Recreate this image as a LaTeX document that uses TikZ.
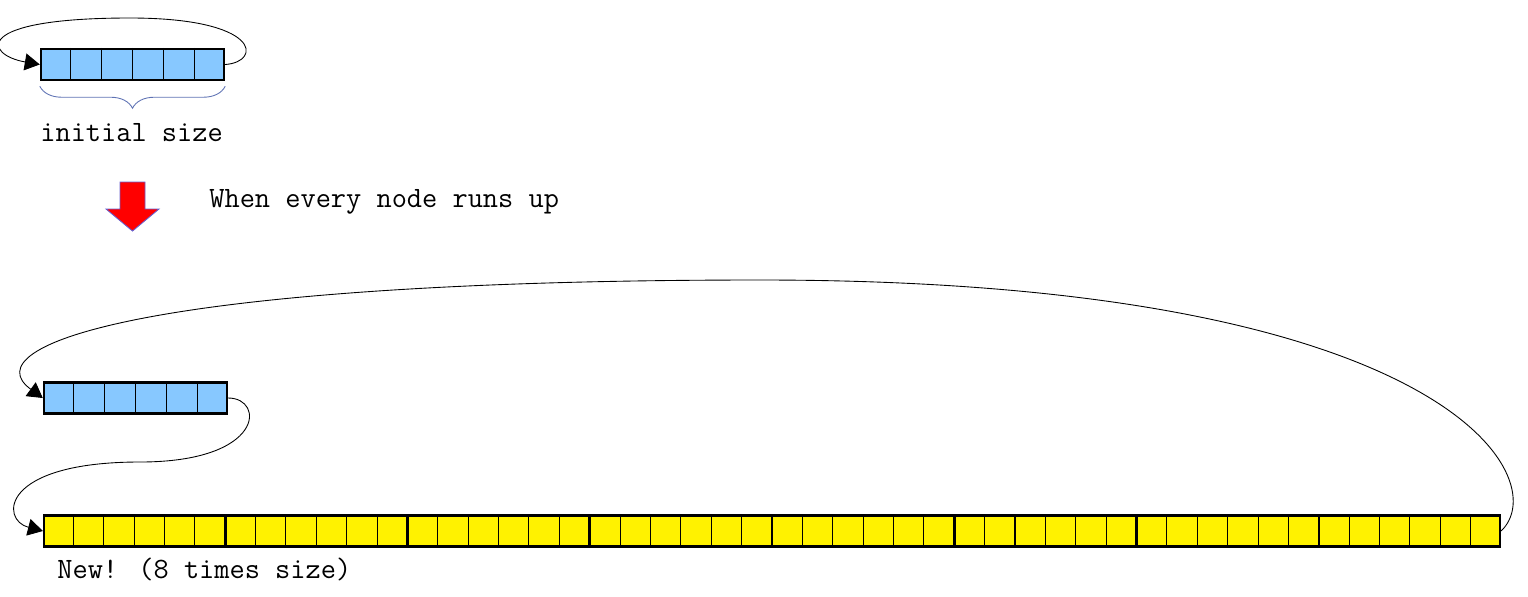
\documentclass[tikz,border=0pt]{standalone}
\usepackage{fontspec}
\usepackage{tikz}
\usepackage{xcolor}
\usetikzlibrary{positioning, arrows.meta, calc, decorations.pathreplacing}

\definecolor{cellblue}{RGB}{135,200,255}
\definecolor{bracecol}{RGB}{95,115,180}
\definecolor{arrowrim}{RGB}{105,95,205}

\begin{document}
\begin{tikzpicture}[
  x=0.02cm, y=-0.02cm,
  >={Triangle[length=0.3cm,width=0.34cm]},
  ttlabel/.style={font=\fontsize{16.8}{20}\selectfont\ttfamily,
                  anchor=base west, inner sep=0pt},
  ring/.style={draw, line width=1.4pt, inner sep=0pt,
               minimum height=0.62cm},
  bluering/.style={ring, fill=cellblue, minimum width=3.66cm},
  yellowring/.style={ring, fill=yellow, minimum width=29.12cm},
  thinsep/.style={line width=0.6pt},
  thicksep/.style={line width=1.5pt},
  link/.style={->, line width=0.5pt},
  bracket/.style={decorate, decoration={brace, mirror, amplitude=0.44cm},
                  draw=bracecol, line width=0.5pt}
]
\useasboundingbox (0,0) rectangle (1528,596);

% ---- Initial ring buffer ----
\node[bluering] (init) at (132.5, 64.5) {};
\foreach \i in {1,...,5}
  \draw[thinsep] ($(init.north west)!\i/6!(init.north east)$)
    -- ($(init.south west)!\i/6!(init.south east)$);

\draw[link] (init.east) .. controls (262,62) and (262,18) .. (130,18)
  .. controls (-30,18) and (-15,55) .. (init.west);

\draw[bracket] ($(init.south west)+(0,5)$) -- ($(init.south east)+(0,5)$);
\node[ttlabel] (initlbl) at (40, 141) {initial size};

% ---- Grow step ----
\draw[fill=red, draw=arrowrim, line width=0.5pt]
  (120,182) -- (145,182) -- (145,209) -- (159,209) -- (132.5,231)
  -- (106,209) -- (120,209) -- cycle;
\node[ttlabel] (growlbl) at (209, 207) {When every node runs up};

% ---- Old buffer and new buffer ----
\node[bluering] (old) at (135.5, 398) {};
\foreach \i in {1,...,5}
  \draw[thinsep] ($(old.north west)!\i/6!(old.north east)$)
    -- ($(old.south west)!\i/6!(old.south east)$);

\node[yellowring] (new) at (772, 531) {};
\foreach \i in {1,...,47}
  \draw[thinsep] ($(new.north west)!\i/48!(new.north east)$)
    -- ($(new.south west)!\i/48!(new.south east)$);
\foreach \i in {6,12,...,42}
  \draw[thicksep] ($(new.north west)!\i/48!(new.north east)$)
    -- ($(new.south west)!\i/48!(new.south east)$);

\draw[link] (old.east) .. controls (265,398) and (265,462) .. (140,462)
  .. controls (0,462) and (0,520) .. (new.west);
\draw[link] (new.east) .. controls (1555,480) and (1450,280) .. (760,280)
  .. controls (150,280) and (-30,345) .. (old.west);

\node[ttlabel] (newlbl) at (57, 578) {New! (8 times size)};

\end{tikzpicture}
\end{document}
